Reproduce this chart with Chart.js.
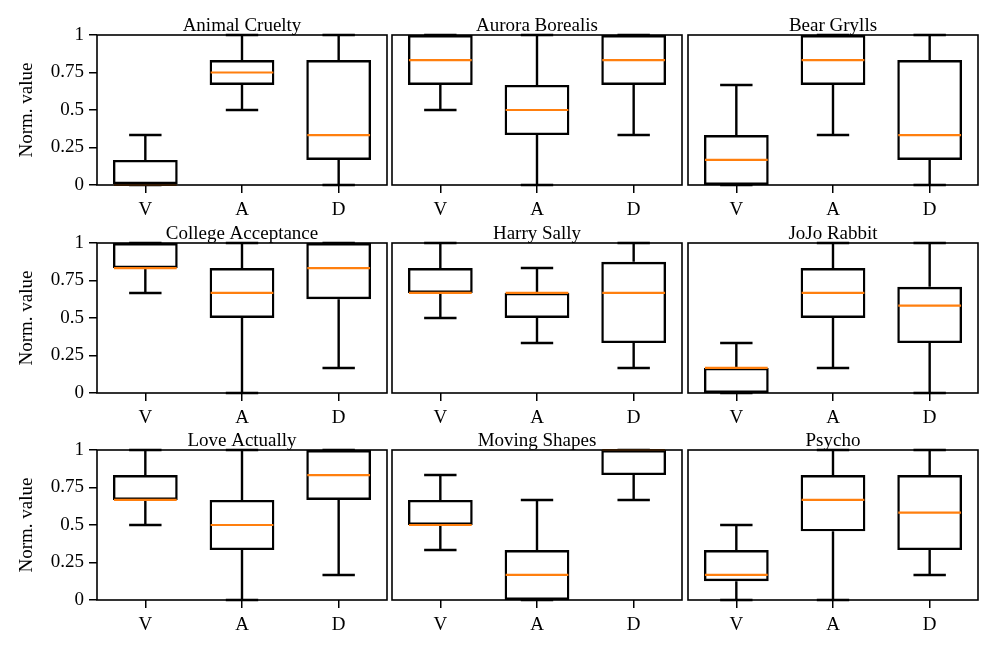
<!DOCTYPE html>
<html><head><meta charset="utf-8">
<script src="https://cdn.jsdelivr.net/npm/chart.js@4.4.1/dist/chart.umd.min.js"></script>
<style>
html,body{margin:0;padding:0;background:#fff;}
body{width:996px;height:653px;position:relative;overflow:hidden;}
.panel{position:absolute;}
.panel canvas{display:block;}
</style></head><body>
<script>
const FILMS = ['Animal Cruelty','Aurora Borealis','Bear Grylls','College Acceptance','Harry Sally','JoJo Rabbit','Love Actually','Moving Shapes','Psycho'];
const DIMENSIONS = ['V','A','D'];
const Y_TICKS = [0, 0.25, 0.5, 0.75, 1];
const Y_TICK_LABELS = ['0', '0.25', '0.5', '0.75', '1'];
const Y_TITLE = 'Norm. value';

// per film: [V, A, D]
const WHISKER_LOW = [
  [0, 0.5, 0], [0.5, 0, 0.333], [0, 0.333, 0],
  [0.667, 0, 0.167], [0.5, 0.333, 0.167], [0, 0.167, 0],
  [0.5, 0, 0.167], [0.333, 0, 0.667], [0, 0, 0.167]
];
const Q1 = [
  [0, 0.667, 0.167], [0.667, 0.333, 0.667], [0, 0.667, 0.167],
  [0.833, 0.5, 0.625], [0.667, 0.5, 0.333], [0, 0.5, 0.333],
  [0.667, 0.333, 0.667], [0.5, 0, 0.833], [0.125, 0.458, 0.333]
];
const MEDIAN = [
  [0, 0.75, 0.333], [0.833, 0.5, 0.833], [0.167, 0.833, 0.333],
  [0.833, 0.667, 0.833], [0.667, 0.667, 0.667], [0.167, 0.667, 0.583],
  [0.667, 0.5, 0.833], [0.5, 0.167, 1], [0.167, 0.667, 0.583]
];
const Q3 = [
  [0.167, 0.833, 0.833], [1, 0.667, 1], [0.333, 1, 0.833],
  [1, 0.833, 1], [0.833, 0.667, 0.875], [0.167, 0.833, 0.708],
  [0.833, 0.667, 1], [0.667, 0.333, 1], [0.333, 0.833, 0.833]
];
const WHISKER_HIGH = [
  [0.333, 1, 1], [1, 1, 1], [0.667, 1, 1],
  [1, 1, 1], [1, 0.833, 1], [0.333, 1, 1],
  [1, 1, 1], [0.833, 0.667, 1], [0.5, 1, 1]
];

const FONT_SIZE = 19;
Chart.defaults.font.family = "'Liberation Serif', 'DejaVu Serif', serif";
Chart.defaults.font.size = FONT_SIZE;
Chart.defaults.color = '#000';

const PLOT_LEFT = [97, 392, 688];
const PLOT_TOP = [35, 243, 450];
const PLOT_W = 290, PLOT_H = 150;
const TITLE_H = 28, XAXIS_H = 45;
const LINE_W = 2.4, MEDIAN_W = 2.2, FRAME_W = 1.6;

const boxExtras = {
  id: 'boxExtras',
  afterDatasetsDraw(chart, args, opts) {
    const k = opts.panel;
    const {ctx} = chart;
    const x = chart.scales.x, y = chart.scales.y;
    const meta = chart.getDatasetMeta(0);
    ctx.save();
    ctx.lineCap = 'butt';
    DIMENSIONS.forEach((d, i) => {
      const cx = x.getPixelForValue(i);
      const half = meta.data[i].width / 2;
      const capHalf = half / 2;
      const yLo = y.getPixelForValue(WHISKER_LOW[k][i]);
      const yQ1 = y.getPixelForValue(Q1[k][i]);
      const yQ3 = y.getPixelForValue(Q3[k][i]);
      const yHi = y.getPixelForValue(WHISKER_HIGH[k][i]);
      const yMed = y.getPixelForValue(MEDIAN[k][i]);
      ctx.strokeStyle = '#000';
      ctx.lineWidth = LINE_W;
      ctx.beginPath();
      ctx.moveTo(cx, yQ1); ctx.lineTo(cx, yLo);
      ctx.moveTo(cx, yQ3); ctx.lineTo(cx, yHi);
      ctx.moveTo(cx - capHalf, yLo); ctx.lineTo(cx + capHalf, yLo);
      ctx.moveTo(cx - capHalf, yHi); ctx.lineTo(cx + capHalf, yHi);
      ctx.stroke();
      ctx.strokeStyle = '#ff7f0e';
      ctx.lineWidth = MEDIAN_W;
      ctx.beginPath();
      ctx.moveTo(cx - half + 1, yMed); ctx.lineTo(cx + half - 1, yMed);
      ctx.stroke();
    });
    ctx.restore();
  },
  afterDraw(chart) {
    const {ctx, chartArea: a} = chart;
    ctx.save();
    ctx.strokeStyle = '#000';
    ctx.lineWidth = FRAME_W;
    ctx.strokeRect(a.left, a.top, a.right - a.left, a.bottom - a.top);
    ctx.restore();
  }
};

FILMS.forEach((film, k) => {
  const r = Math.floor(k / 3), c = k % 3;
  const div = document.createElement('div');
  div.className = 'panel';
  const left = c === 0 ? 0 : PLOT_LEFT[c] - 4;
  const width = c === 0 ? PLOT_LEFT[0] + PLOT_W + 4 : PLOT_W + 8;
  div.style.left = left + 'px';
  div.style.top = (PLOT_TOP[r] - TITLE_H) + 'px';
  div.style.width = width + 'px';
  div.style.height = (TITLE_H + PLOT_H + XAXIS_H) + 'px';
  const cv = document.createElement('canvas');
  div.appendChild(cv);
  document.body.appendChild(div);

  new Chart(cv, {
    type: 'bar',
    data: {
      labels: DIMENSIONS,
      datasets: [{
        data: DIMENSIONS.map((d, i) => [Q1[k][i], Q3[k][i]]),
        backgroundColor: 'rgba(0,0,0,0)',
        borderColor: '#000',
        borderWidth: LINE_W,
        borderSkipped: false,
        barPercentage: 0.67,
        categoryPercentage: 1
      }]
    },
    options: {
      responsive: true,
      maintainAspectRatio: false,
      animation: false,
      events: [],
      layout: {padding: {left: c === 0 ? 0 : 4, right: 4, top: 0, bottom: 0}},
      plugins: {
        legend: {display: false},
        tooltip: {enabled: false},
        title: {
          display: true, text: film, fullSize: false,
          font: {size: FONT_SIZE, weight: 'normal', lineHeight: 0.9},
          padding: {top: TITLE_H - FONT_SIZE * 0.9, bottom: 0}, color: '#000'
        },
        boxExtras: {panel: k}
      },
      scales: {
        x: {
          type: 'category',
          offset: true,
          grid: {display: true, drawOnChartArea: false, drawTicks: true, tickLength: 8, color: '#000', lineWidth: 1.5, offset: false},
          border: {display: false},
          ticks: {padding: 6, font: {size: FONT_SIZE}, color: '#000', maxRotation: 0},
          afterFit: s => { s.height = XAXIS_H; }
        },
        y: {
          display: c === 0,
          min: 0, max: 1,
          grid: {display: true, drawOnChartArea: false, drawTicks: true, tickLength: 8, color: '#000', lineWidth: 1.5},
          border: {display: false},
          afterBuildTicks: s => { s.ticks = Y_TICKS.map(v => ({value: v})); },
          ticks: {padding: 5, font: {size: FONT_SIZE}, color: '#000', callback: (v, i) => Y_TICK_LABELS[i]},
          title: {display: true, text: Y_TITLE, font: {size: FONT_SIZE}, color: '#000', padding: {top: 16, bottom: 0}},
          afterFit: s => { s.width = c === 0 ? PLOT_LEFT[0] : 0; }
        }
      }
    },
    plugins: [boxExtras]
  });
});
</script>
</body></html>
